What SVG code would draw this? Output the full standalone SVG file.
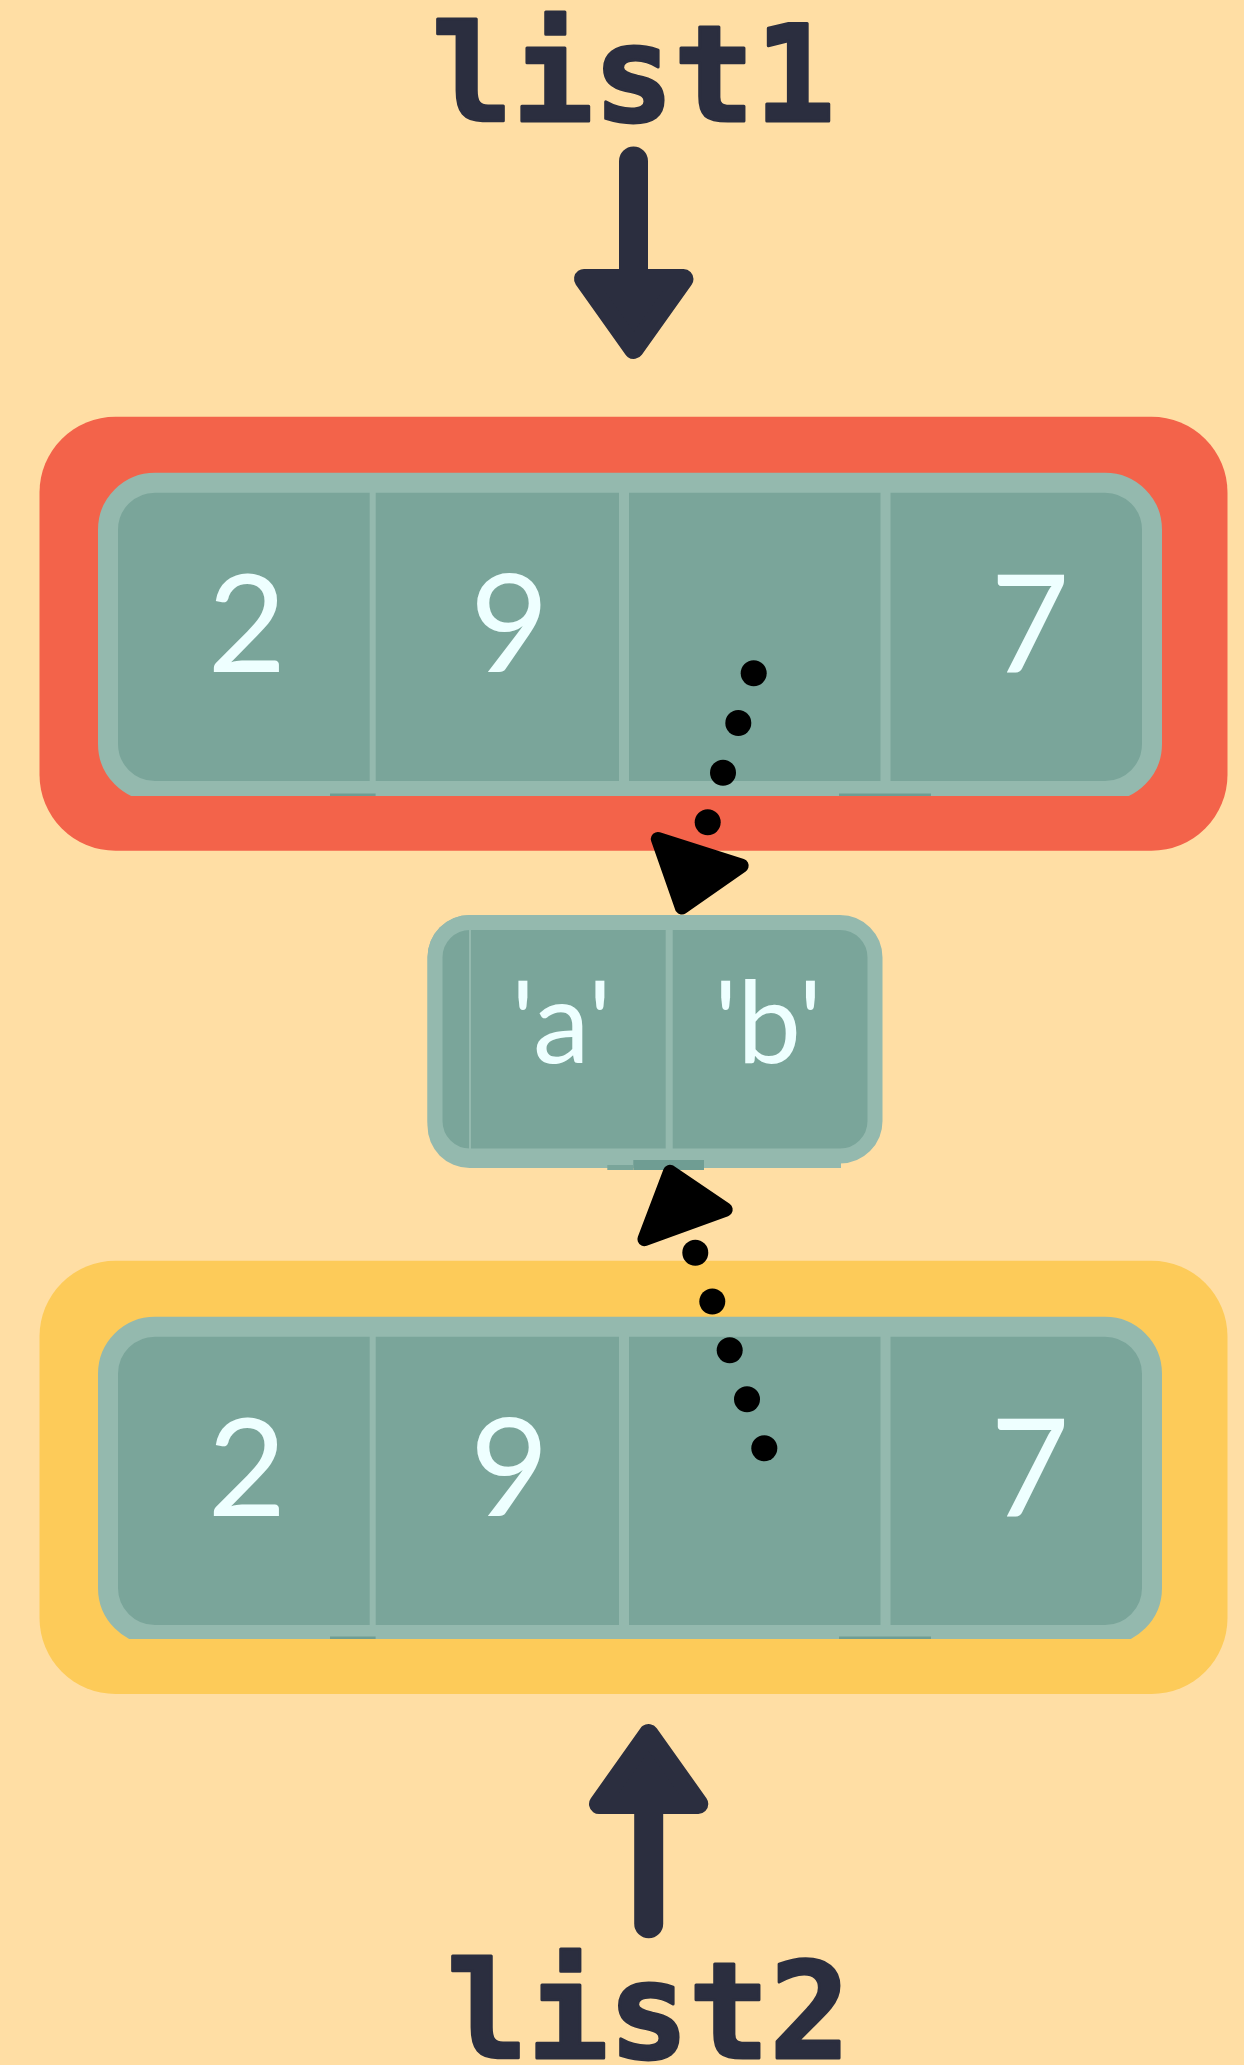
<svg xmlns="http://www.w3.org/2000/svg" width="1244" height="2065" viewBox="0 0 1244 2065">
<defs>
<style>
.bg{fill:#FFDEA4}
.outerR{fill:#F3634A}
.outerY{fill:#FDCB59}
.cellbox{fill:#7AA59A;stroke:#94B9AE;stroke-width:20}
.div{fill:#94B9AE}
.art{fill:#6F9D93}
.artl{fill:#7AA59A}
.num{font-family:Lato,"Noto Sans",sans-serif;font-size:136px;fill:#EEFFFF;text-anchor:middle}
.chr{font-family:Lato,"Noto Sans",sans-serif;font-size:114px;fill:#EEFFFF;text-anchor:middle}
.lbl{font-family:"DejaVu Sans Mono",monospace;font-weight:bold;font-size:134px;fill:#2B2E3F;stroke:#2B2E3F;stroke-width:3;stroke-linejoin:round;text-anchor:middle}
.ptr{stroke:#2B2E3F;stroke-width:29;stroke-linecap:round;fill:none}
.ptrhead{fill:#2B2E3F;stroke:#2B2E3F;stroke-width:20;stroke-linejoin:round}
.dot{fill:#000}
.head{fill:#000;stroke:#000;stroke-width:14;stroke-linejoin:round}
</style>
<clipPath id="c1"><rect x="0" y="0" width="1244" height="796"/></clipPath>
<clipPath id="c2"><rect x="0" y="1000" width="1244" height="639"/></clipPath>
</defs>
<rect class="bg" x="0" y="0" width="1244" height="2065"/>

<g id="label-list1"><text class="lbl" x="633.5" y="121">list1</text></g>
<g id="label-list2"><text class="lbl" x="648.5" y="2058">list2</text></g>

<g id="list1">
<rect class="outerR" x="39.5" y="416.7" width="1188" height="434" rx="76"/>
<g clip-path="url(#c1)"><rect class="cellbox" x="108" y="482.7" width="1044" height="308.3" rx="47"/></g>
<rect class="div" x="369.7" y="490" width="6" height="294"/>
<rect class="div" x="619" y="490" width="10" height="294"/>
<rect class="div" x="880.5" y="490" width="10" height="294"/>
<rect class="art" x="330" y="793.5" width="45.6" height="2.5"/>
<rect class="art" x="839" y="793.5" width="92" height="2.5"/>
<text class="num" x="247" y="672">2</text>
<text class="num" x="509.5" y="672">9</text>
<text class="num" x="1030" y="672">7</text>
</g>

<g id="list2">
<rect class="outerY" x="39.5" y="1260.7" width="1188" height="433.3" rx="76"/>
<g clip-path="url(#c2)"><rect class="cellbox" x="108" y="1326.7" width="1044" height="308.3" rx="47"/></g>
<rect class="div" x="369.7" y="1334" width="6" height="294"/>
<rect class="div" x="619" y="1334" width="10" height="294"/>
<rect class="div" x="880.5" y="1334" width="10" height="294"/>
<rect class="art" x="330" y="1636.5" width="45.6" height="2.5"/>
<rect class="art" x="839" y="1636.5" width="92" height="2.5"/>
<text class="num" x="247" y="1516">2</text>
<text class="num" x="509.5" y="1516">9</text>
<text class="num" x="1030" y="1516">7</text>
</g>

<g id="sublist">
<rect class="div" x="427.5" y="915" width="300" height="253" rx="42"/>
<rect class="div" x="600" y="1120" width="241" height="48"/>
<rect class="cellbox" style="stroke-width:15" x="435" y="922.5" width="440" height="233.5" rx="35"/>
<rect class="div" x="469" y="915" width="2" height="235"/>
<rect class="div" x="665.7" y="926" width="7" height="226"/>
<rect class="art" x="633.3" y="1160" width="70.7" height="10"/>
<rect class="artl" x="607.3" y="1165" width="26" height="5"/>
<text class="chr" x="561.5" y="1063">'a'</text>
<text class="chr" x="768" y="1063">'b'</text>
</g>

<g id="connectors">
<line class="ptr" x1="633.5" y1="161" x2="633.5" y2="285"/>
<polygon class="ptrhead" points="584,279 683.5,279 633.7,349"/>
<line class="ptr" x1="648.7" y1="1923.8" x2="648.7" y2="1795"/>
<polygon class="ptrhead" points="599,1804 698.3,1804 648.6,1734"/>
<circle class="dot" cx="753.7" cy="673.3" r="13"/>
<circle class="dot" cx="738.3" cy="723" r="13"/>
<circle class="dot" cx="723" cy="772.7" r="13"/>
<circle class="dot" cx="707.7" cy="822.3" r="13"/>
<polygon class="head" points="657.8,839 741.7,865.7 681.9,907.6"/>
<circle class="dot" cx="695.3" cy="1252.8" r="13"/>
<circle class="dot" cx="712.3" cy="1301.5" r="13"/>
<circle class="dot" cx="729.7" cy="1350.3" r="13"/>
<circle class="dot" cx="747" cy="1399.3" r="13"/>
<circle class="dot" cx="764.3" cy="1448.3" r="13"/>
<polygon class="head" points="670,1171.8 725.7,1209.6 644.4,1239.2"/>
</g>
</svg>
